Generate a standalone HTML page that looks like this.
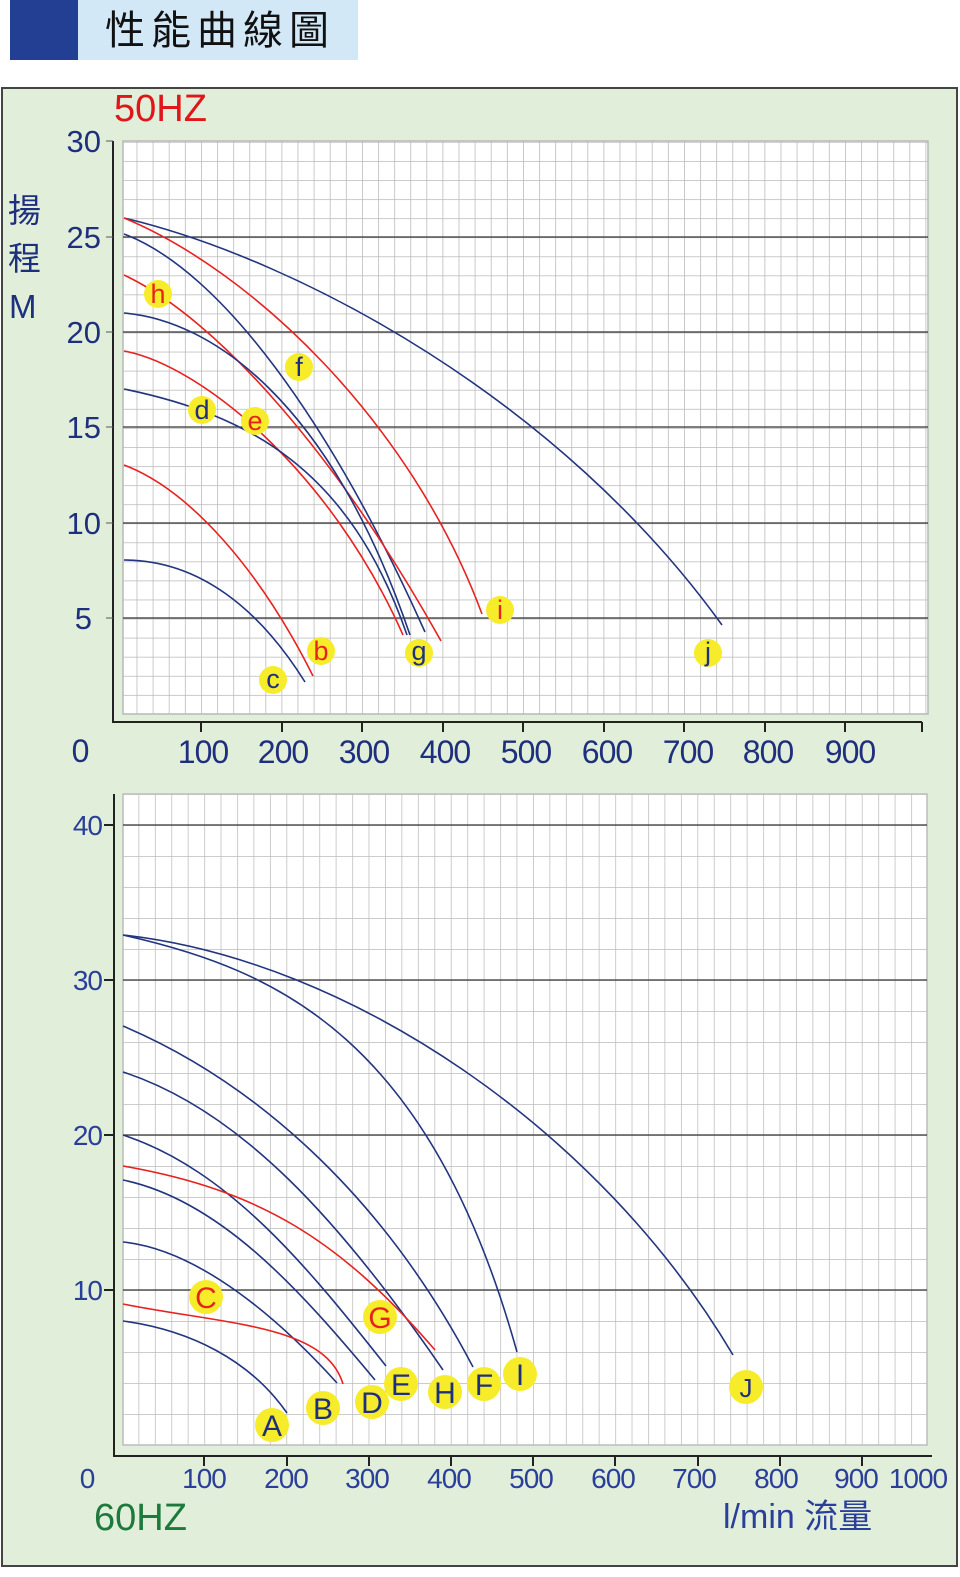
<!DOCTYPE html>
<html><head><meta charset="utf-8"><style>
html,body{margin:0;padding:0;background:#fff;}
svg{display:block;}
</style></head><body>
<svg width="960" height="1577" viewBox="0 0 960 1577" xmlns="http://www.w3.org/2000/svg">
<defs>
<pattern id="pt" patternUnits="userSpaceOnUse" x="120.5" y="714" width="16.1" height="19.07">
<path d="M0 0 H16.1 M0 0 V19.07" stroke="#b8b8b8" stroke-width="1.5" fill="none"/>
</pattern>
<pattern id="pb" patternUnits="userSpaceOnUse" x="122" y="1445" width="16.44" height="31">
<path d="M0 0 H16.44 M0 0 V31" stroke="#bcbcbc" stroke-width="1.5" fill="none"/>
</pattern>
</defs>
<!-- header -->
<rect x="10" y="0" width="68" height="60" fill="#233f94"/>
<rect x="78" y="0" width="280" height="60" fill="#d3e8f7"/>
<text x="105" y="44" font-family="'Liberation Sans','Noto Sans CJK TC',sans-serif" font-size="40" letter-spacing="6" fill="#111">性能曲線圖</text>
<!-- frame -->
<rect x="2" y="88" width="955" height="1478" fill="#e1eed9" stroke="#444" stroke-width="2"/>

<!-- TOP CHART -->
<rect x="123" y="141" width="805" height="573" fill="#fff"/>
<rect x="123" y="141" width="805" height="573" fill="url(#pt)"/>
<rect x="123" y="141" width="805" height="573" fill="none" stroke="#b8b8b8" stroke-width="1.5"/>
<g stroke="#333" stroke-width="1.2">
<line x1="123" y1="237" x2="928" y2="237"/><line x1="123" y1="332" x2="928" y2="332"/>
<line x1="123" y1="427" x2="928" y2="427"/><line x1="123" y1="523" x2="928" y2="523"/>
<line x1="123" y1="618" x2="928" y2="618"/>
</g>
<g stroke="#222" stroke-width="2" fill="none">
<path d="M113 141 V722 H922"/>
<path d="M201 722v10M282 722v10M362 722v10M443 722v10M523 722v10M604 722v10M684 722v10M765 722v10M845 722v10M922 722v10"/>
</g>
<g stroke="#555" stroke-width="1"><path d="M106 141H113M106 237H113M106 332H113M106 427H113M106 523H113M106 618H113"/></g>
<g font-family="'Liberation Sans',sans-serif" font-size="31" fill="#1e2f7e" text-anchor="end">
<text x="101" y="152">30</text><text x="101" y="248">25</text><text x="101" y="343">20</text>
<text x="101" y="438">15</text><text x="101" y="534">10</text><text x="92" y="629">5</text>
</g>
<g font-family="'Liberation Sans',sans-serif" font-size="32" fill="#1e2f7e" text-anchor="middle" letter-spacing="-1">
<text x="80" y="762">0</text><text x="203" y="763">100</text><text x="283" y="763">200</text><text x="364" y="763">300</text>
<text x="445" y="763">400</text><text x="526" y="763">500</text><text x="607" y="763">600</text><text x="688" y="763">700</text>
<text x="768" y="763">800</text><text x="850" y="763">900</text>
</g>
<text x="114" y="121" font-family="'Liberation Sans',sans-serif" font-size="38" fill="#e0161b">50HZ</text>
<g font-family="'Liberation Sans','Noto Sans CJK TC',sans-serif" font-size="33" fill="#1e2f7e">
<text x="8" y="222">揚</text><text x="8" y="270">程</text>
<text x="9" y="318" font-size="33">M</text>
</g>
<!-- top curves -->
<g fill="none" stroke-width="1.6">
<path stroke="#23357f" d="M124 218 C 300 260, 560 400, 722 625"/>
<path stroke="#e8231f" d="M124 218 C 250 270, 410 420, 482 614"/>
<path stroke="#23357f" d="M124 234 C 220 270, 330 420, 425 632"/>
<path stroke="#e8231f" d="M124 275 C 220 320, 340 460, 441 641"/>
<path stroke="#23357f" d="M124 313 C 210 320, 330 400, 410 635"/>
<path stroke="#e8231f" d="M124 351 C 200 365, 330 470, 403 635"/>
<path stroke="#23357f" d="M124 389 C 250 415, 350 470, 407 635"/>
<path stroke="#e8231f" d="M124 465 C 190 490, 260 570, 313 676"/>
<path stroke="#23357f" d="M124 560 C 200 560, 260 610, 305 682"/>
</g>
<g fill="#f7ec2a">
<circle cx="158" cy="294" r="14"/><circle cx="299" cy="367" r="14"/><circle cx="202" cy="410" r="14"/>
<circle cx="255" cy="421" r="14"/><circle cx="321" cy="651" r="14"/><circle cx="419" cy="653" r="14"/>
<circle cx="273" cy="680" r="14"/><circle cx="500" cy="610" r="14"/><circle cx="708" cy="653" r="14"/>
</g>
<g font-family="'Liberation Sans',sans-serif" font-size="27" text-anchor="middle">
<text x="158" y="303" fill="#e8231f">h</text><text x="299" y="376" fill="#1e2f7e">f</text>
<text x="202" y="419" fill="#1e2f7e">d</text><text x="255" y="430" fill="#e8231f">e</text>
<text x="321" y="660" fill="#e8231f">b</text><text x="419" y="660" fill="#1e2f7e">g</text>
<text x="273" y="688" fill="#1e2f7e">c</text><text x="500" y="619" fill="#e8231f">i</text>
<text x="708" y="661" fill="#1e2f7e">j</text>
</g>

<!-- BOTTOM CHART -->
<rect x="123" y="794" width="804" height="651" fill="#fff"/>
<rect x="123" y="794" width="804" height="651" fill="url(#pb)"/>
<rect x="123" y="794" width="804" height="651" fill="none" stroke="#bcbcbc" stroke-width="1.5"/>
<g stroke="#333" stroke-width="1.2">
<line x1="123" y1="825" x2="927" y2="825"/><line x1="123" y1="980" x2="927" y2="980"/>
<line x1="123" y1="1135" x2="927" y2="1135"/><line x1="123" y1="1290" x2="927" y2="1290"/>
</g>
<g stroke="#222" stroke-width="2" fill="none">
<path d="M114 794 V1456 H932"/>
<path d="M204 1456v10M287 1456v10M369 1456v10M451 1456v10M533 1456v10M615 1456v10M698 1456v10M780 1456v10M862 1456v10"/>
<path d="M104 825H114M104 980H114M104 1135H114M104 1290H114"/>
</g>
<g font-family="'Liberation Sans',sans-serif" font-size="28" fill="#2a3f9a" text-anchor="end" letter-spacing="-1">
<text x="102" y="835">40</text><text x="102" y="990">30</text><text x="102" y="1145">20</text><text x="102" y="1300">10</text>
</g>
<g font-family="'Liberation Sans',sans-serif" font-size="28" fill="#2a3f9a" text-anchor="middle" letter-spacing="-1">
<text x="87" y="1488">0</text><text x="204" y="1488">100</text><text x="286" y="1488">200</text><text x="367" y="1488">300</text>
<text x="449" y="1488">400</text><text x="531" y="1488">500</text><text x="613" y="1488">600</text><text x="694" y="1488">700</text>
<text x="776" y="1488">800</text><text x="856" y="1488">900</text><text x="918" y="1488">1000</text>
</g>
<text x="94" y="1530" font-family="'Liberation Sans',sans-serif" font-size="38" fill="#1b7a3c">60HZ</text>
<text x="723" y="1528" font-family="'Liberation Sans','Noto Sans CJK TC',sans-serif" font-size="34" fill="#2a3f9a">l/min 流量</text>
<!-- bottom curves -->
<g fill="none" stroke-width="1.6">
<path stroke="#23357f" d="M123 935 C 350 960, 600 1130, 733 1355"/>
<path stroke="#23357f" d="M123 935 C 280 970, 430 1040, 517 1352"/>
<path stroke="#23357f" d="M123 1026 C 250 1080, 380 1190, 473 1367"/>
<path stroke="#23357f" d="M123 1072 C 240 1110, 340 1220, 443 1370"/>
<path stroke="#23357f" d="M123 1135 C 230 1170, 310 1270, 386 1366"/>
<path stroke="#e8231f" d="M123 1166 C 260 1190, 340 1240, 435 1350"/>
<path stroke="#23357f" d="M123 1180 C 220 1200, 300 1290, 375 1380"/>
<path stroke="#23357f" d="M123 1242 C 200 1250, 280 1320, 337 1383"/>
<path stroke="#e8231f" d="M123 1304 C 230 1325, 325 1325, 343 1384"/>
<path stroke="#23357f" d="M123 1321 C 190 1330, 250 1360, 287 1413"/>
</g>
<g fill="#f7ec2a">
<circle cx="206" cy="1297" r="17"/><circle cx="380" cy="1317" r="17"/><circle cx="272" cy="1425" r="17"/>
<circle cx="323" cy="1408" r="17"/><circle cx="372" cy="1402" r="17"/><circle cx="401" cy="1384" r="17"/>
<circle cx="445" cy="1392" r="17"/><circle cx="484" cy="1384" r="17"/><circle cx="520" cy="1374" r="17"/>
<circle cx="746" cy="1387" r="17"/>
</g>
<g font-family="'Liberation Sans',sans-serif" font-size="30" text-anchor="middle">
<text x="206" y="1308" fill="#e8231f">C</text><text x="380" y="1328" fill="#e8231f">G</text>
<text x="272" y="1436" fill="#1e2f7e">A</text><text x="323" y="1419" fill="#1e2f7e">B</text>
<text x="372" y="1413" fill="#1e2f7e">D</text><text x="401" y="1395" fill="#1e2f7e">E</text>
<text x="445" y="1403" fill="#1e2f7e">H</text><text x="484" y="1395" fill="#1e2f7e">F</text>
<text x="520" y="1385" fill="#1e2f7e">I</text><text x="746" y="1397" fill="#1e2f7e" font-size="26">J</text>
</g>
</svg>
</body></html>
